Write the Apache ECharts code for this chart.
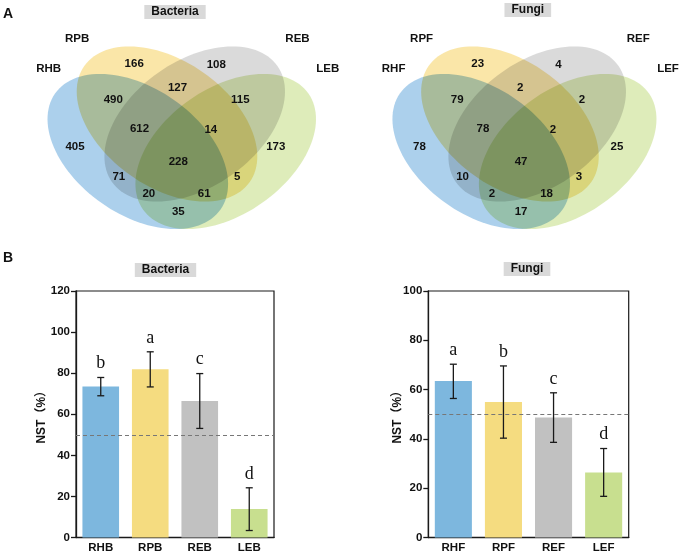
<!DOCTYPE html>
<html>
<head>
<meta charset="utf-8">
<script src="https://cdn.jsdelivr.net/npm/echarts@6/dist/echarts.min.js"></script>
<style>
html, body { margin: 0; padding: 0; background: #fff; }
#chart { width: 685px; height: 554px; }
</style>
</head>
<body>
<div id="chart"></div>
<script>
// 韦恩图: 各区域 OTU 数 (顺序与 regionPos 对应)
var setBac = ['RHB', 'RPB', 'REB', 'LEB'];
var setFun = ['RHF', 'RPF', 'REF', 'LEF'];
var vennBac = [166, 108, 490, 127, 115, 612, 14, 405, 228, 173, 71, 5, 20, 61, 35];
var vennFun = [23, 4, 79, 2, 2, 78, 2, 78, 47, 25, 10, 3, 2, 18, 17];

// 柱状图: NST (%)
var catBac = ['RHB', 'RPB', 'REB', 'LEB'];
var nstBac = [73.5, 81.9, 66.4, 13.9];
var lowBac = [69.0, 73.3, 53.1, 3.4];
var highBac = [77.9, 90.4, 79.8, 24.2];
var sigBac = ['b', 'a', 'c', 'd'];

var catFun = ['RHF', 'RPF', 'REF', 'LEF'];
var nstFun = [63.5, 55.0, 48.7, 26.4];
var lowFun = [56.4, 40.3, 38.6, 16.7];
var highFun = [70.3, 69.6, 58.7, 36.1];
var sigFun = ['a', 'b', 'c', 'd'];

var refLine = 50;

// ---- 版式 (韦恩图坐标系, 单位 px) ----
var regionPos = [[134.2, 64.3], [216.3, 64.5], [113.3, 100.3], [177.5, 87.5], [240.3, 100],
  [139.5, 129.2], [210.8, 129.7], [75, 146.7], [178.3, 162.2], [275.8, 146.7],
  [118.8, 176.7], [237.2, 176.7], [148.8, 194.2], [204.2, 194], [178.3, 211.7]];
var namePos = [[48.7, 68.8], [77.2, 38.8], [297.5, 39.2], [327.7, 68.8]];
var ellCenter = [[137.8, 151.5], [167, 124], [194.7, 124], [225.7, 151.5]];
var ELL_A = 101, ELL_B = 63, ELL_ROT = 35 * Math.PI / 180;

var vennColors = ['#acd0ec', '#fae6a8', '#dadada', '#deecba'];
var barColors = ['#7db7de', '#f5dc80', '#c1c1c1', '#c8df8f'];
var FONT = '"Liberation Sans", Arial, "Noto Sans CJK SC", sans-serif';
var SERIF = '"Liberation Serif", "Times New Roman", serif';

var chart = echarts.init(document.getElementById('chart'));

function renderEllipse(params, api) {
  var cx = api.value(0), cy = api.value(1), k = params.dataIndex;
  var dir = k < 2 ? 1 : -1;
  var c = Math.cos(ELL_ROT), s = Math.sin(ELL_ROT);
  var pts = [];
  for (var j = 0; j < 120; j++) {
    var t = j / 120 * Math.PI * 2;
    var u = ELL_A * Math.cos(t), v = ELL_B * Math.sin(t);
    pts.push(api.coord([cx + u * c - dir * v * s, cy + dir * u * s + v * c]));
  }
  return {
    type: 'polygon',
    shape: { points: pts },
    style: { fill: vennColors[k] }
  };
}

function vennSeries(gi, counts, names) {
  return [
    {
      type: 'custom', xAxisIndex: gi, yAxisIndex: gi, silent: true, z: 1,
      blendMode: 'multiply',
      data: ellCenter.map(function (p) { return [p[0], p[1]]; }),
      renderItem: renderEllipse
    },
    {
      type: 'custom', xAxisIndex: gi, yAxisIndex: gi, silent: true, z: 3,
      data: counts.map(function (n, i) { return [regionPos[i][0], regionPos[i][1], n]; }),
      renderItem: function (params, api) {
        var p = api.coord([api.value(0), api.value(1)]);
        return {
          type: 'text', x: p[0], y: p[1],
          style: { text: String(api.value(2)), fontFamily: FONT, fontWeight: 'bold', fontSize: 11.5,
            fill: '#111', align: 'center', verticalAlign: 'middle' }
        };
      }
    },
    {
      type: 'custom', xAxisIndex: gi, yAxisIndex: gi, silent: true, z: 3,
      data: namePos.map(function (p) { return [p[0], p[1]]; }),
      renderItem: function (params, api) {
        var p = api.coord([api.value(0), api.value(1)]);
        return {
          type: 'text', x: p[0], y: p[1],
          style: { text: names[params.dataIndex], fontFamily: FONT, fontWeight: 'bold', fontSize: 11.5,
            fill: '#111', align: 'center', verticalAlign: 'middle' }
        };
      }
    }
  ];
}

function barSeries(ai, vals) {
  return {
    type: 'bar', xAxisIndex: ai, yAxisIndex: ai, barWidth: '74%', z: 2,
    data: vals.map(function (v, i) { return { value: v, itemStyle: { color: barColors[i] } }; }),
    markLine: {
      silent: true, symbol: ['none', 'none'], label: { show: false },
      lineStyle: { type: [4, 3], color: '#777', width: 1 },
      data: [{ yAxis: refLine }]
    }
  };
}

function errorSeries(ai, low, high, sig) {
  return {
    type: 'custom', xAxisIndex: ai, yAxisIndex: ai, silent: true, z: 5,
    data: low.map(function (l, i) { return [i, l, high[i]]; }),
    renderItem: function (params, api) {
      var x = api.value(0);
      var lo = api.coord([x, api.value(1)]);
      var hi = api.coord([x, api.value(2)]);
      var w = 3.5;
      var ls = { stroke: '#1a1a1a', lineWidth: 1.3 };
      return {
        type: 'group',
        children: [
          { type: 'line', shape: { x1: hi[0], y1: hi[1], x2: lo[0], y2: lo[1] }, style: ls },
          { type: 'line', shape: { x1: hi[0] - w, y1: hi[1], x2: hi[0] + w, y2: hi[1] }, style: ls },
          { type: 'line', shape: { x1: lo[0] - w, y1: lo[1], x2: lo[0] + w, y2: lo[1] }, style: ls },
          { type: 'text', x: hi[0], y: hi[1] - 5,
            style: { text: sig[params.dataIndex], fontFamily: SERIF, fontSize: 18, fill: '#111',
              align: 'center', verticalAlign: 'bottom' } }
        ]
      };
    }
  };
}

function vennAxis(gi, max, inverse) {
  return { type: 'value', gridIndex: gi, min: 0, max: max, inverse: inverse, show: false };
}

function catAxis(gi, cats) {
  return {
    type: 'category', gridIndex: gi, data: cats,
    axisLine: { lineStyle: { color: '#1a1a1a', width: 1.3 } },
    axisTick: { show: false },
    axisLabel: { color: '#111', fontFamily: FONT, fontWeight: 'bold', fontSize: 11.5, margin: 5 }
  };
}

function valAxis(gi, max, gap) {
  return {
    type: 'value', gridIndex: gi, min: 0, max: max, interval: 20,
    name: 'NST（%）', nameLocation: 'middle', nameGap: gap, nameMoveOverlap: false,
    nameTextStyle: { color: '#111', fontFamily: FONT, fontWeight: 'bold', fontSize: 12 },
    axisLine: { show: true, lineStyle: { color: '#1a1a1a', width: 1.3 } },
    axisTick: { show: true, length: 5, lineStyle: { color: '#1a1a1a', width: 1.3 } },
    axisLabel: { color: '#111', fontFamily: FONT, fontWeight: 'bold', fontSize: 11.5, margin: 6 },
    splitLine: { show: false }
  };
}

function boxTitle(text, center, top) {
  return {
    text: text, left: center - 7, top: top, textAlign: 'center',
    backgroundColor: '#d9d9d9', padding: [1, 7],
    textStyle: { fontFamily: FONT, fontWeight: 'bold', fontSize: 12, color: '#111' }
  };
}

var option = {
  animation: false,
  backgroundColor: '#fff',
  title: [
    { text: 'A', left: 3, top: 7, padding: 0, textStyle: { fontFamily: FONT, fontWeight: 'bold', fontSize: 14, color: '#111' } },
    { text: 'B', left: 3, top: 251, padding: 0, textStyle: { fontFamily: FONT, fontWeight: 'bold', fontSize: 14, color: '#111' } },
    boxTitle('Bacteria', 175, 5),
    boxTitle('Fungi', 527.8, 3),
    boxTitle('Bacteria', 165.5, 263),
    boxTitle('Fungi', 527, 262)
  ],
  grid: [
    { left: 0, top: 0, width: 345, height: 250 },
    { left: 345.7, top: 0, width: 345, height: 250 },
    { left: 76, top: 291, width: 198, height: 248, show: true, borderColor: '#1a1a1a', borderWidth: 1.2 },
    { left: 428.3, top: 291, width: 200.4, height: 247.7, show: true, borderColor: '#1a1a1a', borderWidth: 1.2 }
  ],
  xAxis: [
    vennAxis(0, 345, false),
    vennAxis(1, 345, false),
    catAxis(2, catBac),
    catAxis(3, catFun)
  ],
  yAxis: [
    vennAxis(0, 250, true),
    vennAxis(1, 250, true),
    valAxis(2, 120, 28),
    valAxis(3, 100, 25)
  ],
  series: [].concat(
    vennSeries(0, vennBac, setBac),
    vennSeries(1, vennFun, setFun),
    [barSeries(2, nstBac), errorSeries(2, lowBac, highBac, sigBac),
     barSeries(3, nstFun), errorSeries(3, lowFun, highFun, sigFun)]
  )
};

chart.setOption(option);
</script>
</body>
</html>
